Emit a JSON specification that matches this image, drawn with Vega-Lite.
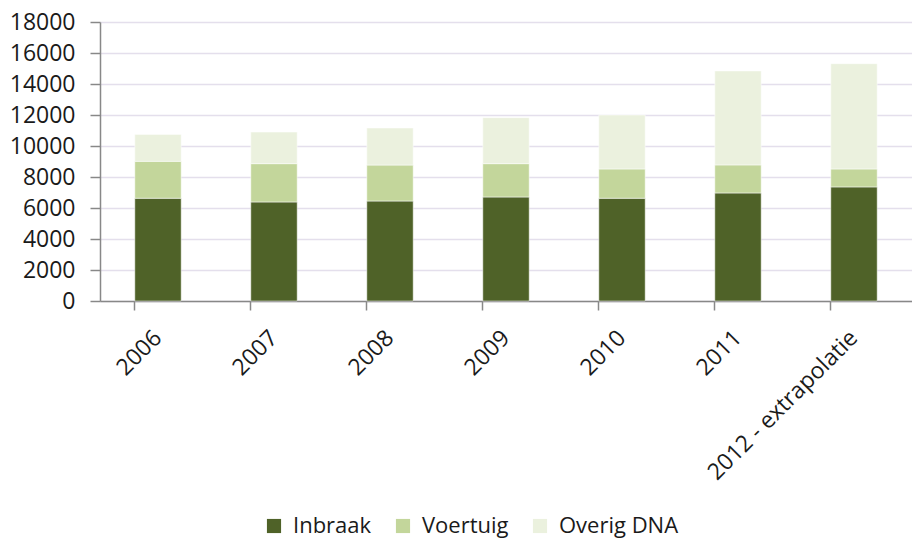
{
  "$schema": "https://vega.github.io/schema/vega-lite/v6.json",
  "width": 812,
  "height": 279,
  "autosize": {"type": "none"},
  "padding": {"left": 100, "top": 22, "right": 0, "bottom": 239},
  "background": "white",
  "config": {
    "view": {"stroke": null},
    "font": "Open Sans"
  },
  "data": {
    "values": [
      {"jaar": "2006", "categorie": "Inbraak", "aantal": 6630},
      {"jaar": "2006", "categorie": "Voertuig", "aantal": 2380},
      {"jaar": "2006", "categorie": "Overig DNA", "aantal": 1740},
      {"jaar": "2007", "categorie": "Inbraak", "aantal": 6390},
      {"jaar": "2007", "categorie": "Voertuig", "aantal": 2470},
      {"jaar": "2007", "categorie": "Overig DNA", "aantal": 2040},
      {"jaar": "2008", "categorie": "Inbraak", "aantal": 6450},
      {"jaar": "2008", "categorie": "Voertuig", "aantal": 2320},
      {"jaar": "2008", "categorie": "Overig DNA", "aantal": 2390},
      {"jaar": "2009", "categorie": "Inbraak", "aantal": 6710},
      {"jaar": "2009", "categorie": "Voertuig", "aantal": 2150},
      {"jaar": "2009", "categorie": "Overig DNA", "aantal": 2970},
      {"jaar": "2010", "categorie": "Inbraak", "aantal": 6630},
      {"jaar": "2010", "categorie": "Voertuig", "aantal": 1890},
      {"jaar": "2010", "categorie": "Overig DNA", "aantal": 3480},
      {"jaar": "2011", "categorie": "Inbraak", "aantal": 6970},
      {"jaar": "2011", "categorie": "Voertuig", "aantal": 1810},
      {"jaar": "2011", "categorie": "Overig DNA", "aantal": 6060},
      {"jaar": "2012 - extrapolatie", "categorie": "Inbraak", "aantal": 7360},
      {"jaar": "2012 - extrapolatie", "categorie": "Voertuig", "aantal": 1160},
      {"jaar": "2012 - extrapolatie", "categorie": "Overig DNA", "aantal": 6790}
    ]
  },
  "transform": [
    {"calculate": "indexof(['Inbraak', 'Voertuig', 'Overig DNA'], datum.categorie)", "as": "volgorde"}
  ],
  "mark": {"type": "bar", "stroke": "white", "strokeWidth": 0.5},
  "encoding": {
    "x": {
      "field": "jaar",
      "type": "nominal",
      "sort": null,
      "title": null,
      "scale": {"paddingInner": 0.6, "paddingOuter": 0.3},
      "axis": {
        "labelAngle": -45,
        "labelAlign": "right",
        "labelBaseline": "middle",
        "labelFontSize": 23,
        "labelColor": "#1a1a1a",
        "labelPadding": 24,
        "labelDx": 5,
        "labelLimit": 0,
        "bandPosition": 0,
        "tickColor": "#888888",
        "tickSize": 9,
        "domainColor": "#888888",
        "domainWidth": 1.5,
        "tickWidth": 1.5,
        "labelOverlap": false
      }
    },
    "y": {
      "field": "aantal",
      "type": "quantitative",
      "stack": "zero",
      "title": null,
      "scale": {"domain": [0, 18000], "nice": false},
      "axis": {
        "values": [0, 2000, 4000, 6000, 8000, 10000, 12000, 14000, 16000, 18000],
        "format": "d",
        "labelFontSize": 23,
        "labelColor": "#1a1a1a",
        "labelPadding": 15,
        "tickColor": "#888888",
        "tickSize": 10,
        "tickWidth": 1.5,
        "domainColor": "#888888",
        "domainWidth": 1.5,
        "gridColor": "#E4DFEC",
        "gridWidth": 1.5
      }
    },
    "order": {"field": "volgorde", "type": "quantitative", "sort": "ascending"},
    "color": {
      "field": "categorie",
      "type": "nominal",
      "sort": ["Inbraak", "Voertuig", "Overig DNA"],
      "scale": {
        "domain": ["Inbraak", "Voertuig", "Overig DNA"],
        "range": ["#4F6228", "#C3D69B", "#EBF1DE"]
      },
      "legend": {
        "title": null,
        "orient": "none",
        "direction": "horizontal",
        "legendX": 163,
        "legendY": 493,
        "symbolType": "square",
        "symbolSize": 200,
        "symbolStrokeWidth": 0,
        "labelFontSize": 22,
        "labelColor": "#1a1a1a",
        "columnPadding": 20,
        "labelOffset": 8
      }
    }
  }
}
